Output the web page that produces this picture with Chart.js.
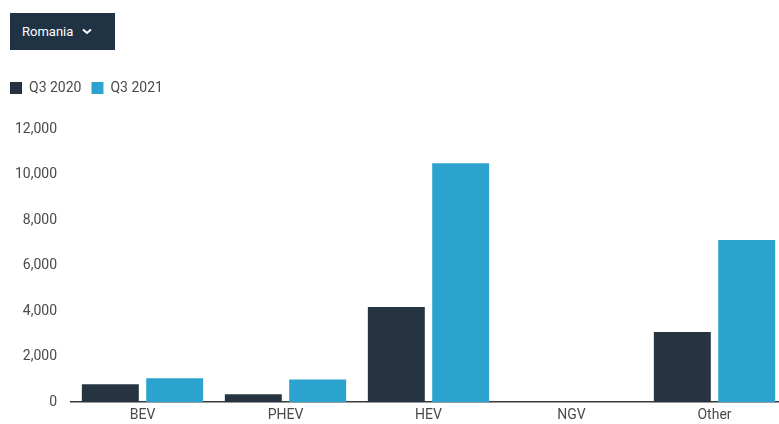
<!DOCTYPE html>
<html>
<head>
<meta charset="utf-8">
<script src="https://cdn.jsdelivr.net/npm/chart.js@4.4.0/dist/chart.umd.min.js"></script>
<style>
  html, body { margin: 0; padding: 0; background: #fff; overflow: hidden; }
  body { width: 779px; height: 424px; position: relative; }
  #country {
    position: absolute; left: 10px; top: 13px; width: 105px; height: 37px;
    background: #1f3345; color: #fff; box-sizing: border-box;
    font: 400 13px "Roboto", sans-serif;
    display: flex; align-items: center; padding-left: 12px;
  }
  #country svg { margin-left: 9px; }
  #chartBox { position: absolute; left: 0; top: 71px; width: 786px; height: 358px; }
</style>
</head>
<body>
<div id="country">Romania
  <svg width="10" height="7" viewBox="0 0 10 7"><path d="M1 1.5 L5 5 L9 1.5" stroke="#fff" stroke-width="2" fill="none"/></svg>
</div>
<div id="chartBox"><canvas id="chart"></canvas></div>
<script>
const categories = ["BEV", "PHEV", "HEV", "NGV", "Other"];
const seriesNames = ["Q3 2020", "Q3 2021"];
const q3_2020 = [790, 350, 4180, 0, 3080];
const q3_2021 = [1050, 1000, 10500, 0, 7120];
const yTicks = [0, 2000, 4000, 6000, 8000, 10000, 12000];

const fontFamily = '"Roboto", sans-serif';
const textColor = "#4a4a4a";

// Extra space under the legend.
const legendMargin = {
  id: "legendMargin",
  beforeInit(chart) {
    const fit = chart.legend.fit;
    chart.legend.fit = function () {
      fit.bind(chart.legend)();
      this.height += 24;
    };
  },
};

const ctx = document.getElementById("chart").getContext("2d");
new Chart(ctx, {
  type: "bar",
  data: {
    labels: categories,
    datasets: [
      { label: seriesNames[0], data: q3_2020, backgroundColor: "#263441" },
      { label: seriesNames[1], data: q3_2021, backgroundColor: "#2ca3cf" },
    ],
  },
  plugins: [legendMargin],
  options: {
    responsive: true,
    maintainAspectRatio: false,
    animation: false,
    categoryPercentage: 0.9,
    barPercentage: 0.885,
    layout: { padding: 0 },
    plugins: {
      tooltip: { enabled: false },
      legend: {
        position: "top",
        align: "start",
        labels: {
          boxWidth: 12,
          boxHeight: 12,
          padding: 10,
          color: textColor,
          font: { family: fontFamily, size: 14 },
        },
      },
    },
    scales: {
      x: {
        grid: { display: false, drawTicks: false },
        border: { display: true, color: "#3a3a3a", width: 1.5 },
        ticks: { color: textColor, padding: 5, font: { family: fontFamily, size: 14 } },
      },
      y: {
        min: 0,
        max: 12000,
        grid: { display: false, drawTicks: false },
        border: { display: false },
        afterBuildTicks: (axis) => { axis.ticks = yTicks.map((v) => ({ value: v })); },
        afterFit: (axis) => { axis.width = 71; },
        ticks: {
          color: textColor,
          padding: 14,
          font: { family: fontFamily, size: 14 },
          callback: (v) => Number(v).toLocaleString("en-US"),
        },
      },
    },
  },
});
</script>
</body>
</html>
